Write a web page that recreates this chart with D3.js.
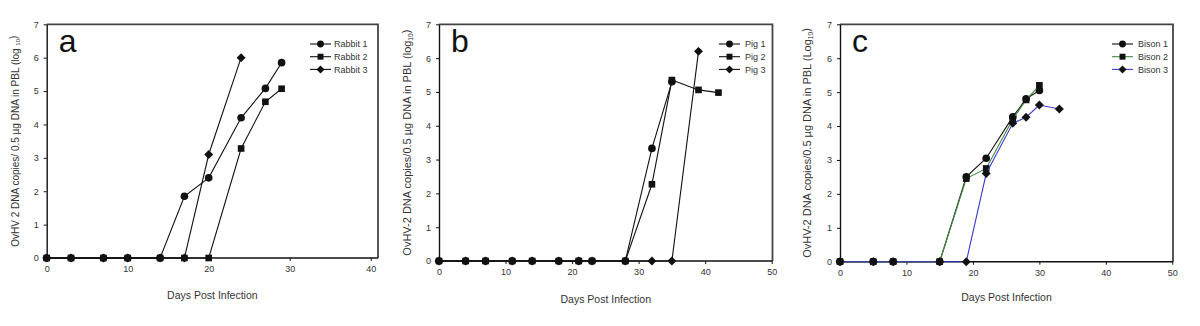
<!DOCTYPE html>
<html><head><meta charset="utf-8">
<script src="https://cdn.jsdelivr.net/npm/d3@7"></script>
<style>body{margin:0;background:#fff}svg{display:block;font-family:Arial,"Liberation Sans",sans-serif}</style>
</head><body><svg id="c" width="1200" height="326"></svg>
<script>
// ---- data ----
const xTicksA = [0,10,20,30,40];
const xTicksBC = [0,10,20,30,40,50];
const yTicks = [0,1,2,3,4,5,6,7];

const rabbitNames = ["Rabbit 1","Rabbit 2","Rabbit 3"];
const rabbit1Days = [0,3,7,10,14,17,20,24,27,29];
const rabbit1Vals = [0,0,0,0,0,1.85,2.4,4.2,5.08,5.85];
const rabbit2Days = [0,3,7,10,14,17,20,24,27,29];
const rabbit2Vals = [0,0,0,0,0,0,0,3.28,4.68,5.07];
const rabbit3Days = [0,3,7,10,14,17,20,24];
const rabbit3Vals = [0,0,0,0,0,0,3.1,6.0];

const pigNames = ["Pig 1","Pig 2","Pig 3"];
const pig1Days = [0,4,7,11,14,18,21,23,28,32,35];
const pig1Vals = [0,0,0,0,0,0,0,0,0,3.33,5.3];
const pig2Days = [0,4,7,11,14,18,21,23,28,32,35,39,42];
const pig2Vals = [0,0,0,0,0,0,0,0,0,2.27,5.35,5.06,4.98];
const pig3Days = [0,4,7,11,14,18,21,23,28,32,35,39];
const pig3Vals = [0,0,0,0,0,0,0,0,0,0,0,6.2];

const bisonNames = ["Bison 1","Bison 2","Bison 3"];
const bison1Days = [0,5,8,15,19,22,26,28,30];
const bison1Vals = [0,0,0,0,2.5,3.05,4.27,4.8,5.05];
const bison2Days = [0,5,8,15,19,22,26,28,30];
const bison2Vals = [0,0,0,0,2.45,2.75,4.2,4.77,5.2];
const bison3Days = [0,5,8,15,19,22,26,28,30,33];
const bison3Vals = [0,0,0,0,0,2.6,4.08,4.26,4.62,4.5];

// ---- layout / style ----
const markers = [d3.symbolCircle, d3.symbolSquare, d3.symbolSquare];
const markerRot = [0, 0, 45];
const markerSize = [46, 44, 40];
const panels = [
  {letter:"a", xMax:40, xTicks:xTicksA, x0:46.7, x1:370.7, frameR:378, yT:24.3, yB:258,
   names:rabbitNames, days:[rabbit1Days,rabbit2Days,rabbit3Days], vals:[rabbit1Vals,rabbit2Vals,rabbit3Vals],
   colors:["#111","#111","#111"], ytitle:["OvHV 2 DNA copies/ 0.5 \u00b5g DNA in PBL (log ","10",")"], ytFont:10, ytX:15,
   legX:310, legTX:334, xtY:299},
  {letter:"b", xMax:50, xTicks:xTicksBC, x0:439, x1:771.7, frameR:772.5, yT:24.3, yB:261,
   names:pigNames, days:[pig1Days,pig2Days,pig3Days], vals:[pig1Vals,pig2Vals,pig3Vals],
   colors:["#111","#111","#111"], ytitle:["OvHV-2 DNA copies/0.5 \u00b5g DNA in PBL (log","10",")"], ytFont:11, ytX:407,
   legX:719, legTX:745, xtY:303},
  {letter:"c", xMax:50, xTicks:xTicksBC, x0:840, x1:1172.3, frameR:1173, yT:24.3, yB:261.7,
   names:bisonNames, days:[bison1Days,bison2Days,bison3Days], vals:[bison1Vals,bison2Vals,bison3Vals],
   colors:["#111","#3f8a3f","#3a3ad0"], ytitle:["OvHV-2 DNA copies/0.5 \u00b5g DNA in PBL (Log","10",")"], ytFont:11, ytX:807,
   legX:1112, legTX:1138, xtY:301}
];

const svg = d3.select("#c");
panels.forEach(p => {
  const x = d3.scaleLinear().domain([0,p.xMax]).range([p.x0,p.x1]);
  const y = d3.scaleLinear().domain([0,7]).range([p.yB,p.yT]);
  const g = svg.append("g");
  // frame top/right
  g.append("path").attr("d",`M${p.x0},${p.yT}H${p.frameR}V${p.yB}`).attr("fill","none").attr("stroke","#444").attr("stroke-width",1.8);
  // axes
  const ax = g.append("g").attr("transform",`translate(0,${p.yB})`)
    .call(d3.axisBottom(x).tickValues(p.xTicks).tickFormat(d3.format("d")).tickSize(3).tickPadding(5).tickSizeOuter(0));
  ax.select(".domain").attr("d",`M${p.x0},0H${p.frameR}`);
  const ay = g.append("g").attr("transform",`translate(${p.x0},0)`)
    .call(d3.axisLeft(y).tickValues(yTicks).tickFormat(d3.format("d")).tickSize(3).tickPadding(5).tickSizeOuter(0));
  [ax,ay].forEach(a=>{
    a.select(".domain").attr("stroke","#111").attr("stroke-width",1.4);
    a.selectAll(".tick line").attr("stroke","#111");
    a.selectAll(".tick text").attr("font-size",9).attr("fill","#333").attr("font-family","Arial, 'Liberation Sans', sans-serif");
  });
  // axis titles
  g.append("text").attr("x",(p.x0+p.frameR)/2).attr("y",p.xtY).attr("text-anchor","middle")
    .attr("font-size",10.5).attr("fill","#333").text("Days Post Infection");
  const yt = g.append("text").attr("transform",`translate(${p.ytX},${(p.yT+p.yB)/2}) rotate(-90)`)
    .attr("text-anchor","middle").attr("dy","0.35em").attr("font-size",p.ytFont).attr("fill","#333");
  yt.append("tspan").text(p.ytitle[0]);
  yt.append("tspan").attr("font-size",p.ytFont*0.6).attr("dy","0.3em").text(p.ytitle[1]);
  yt.append("tspan").attr("dy","-0.3em").text(p.ytitle[2]);
  // panel letter
  g.append("text").attr("x",p.x0+12).attr("y",52).attr("font-size",32).attr("fill","#111").text(p.letter);
  // series
  const line = d3.line().x(d=>x(d[0])).y(d=>y(d[1]));
  p.names.forEach((n,i) => {
    const pts = d3.zip(p.days[i], p.vals[i]);
    g.append("path").datum(pts).attr("d",line).attr("fill","none").attr("stroke",p.colors[i]).attr("stroke-width",1.1);
    g.selectAll(null).data(pts).enter().append("path")
      .attr("transform",d=>`translate(${x(d[0])},${y(d[1])}) rotate(${markerRot[i]})`)
      .attr("d",d3.symbol().type(markers[i]).size(markerSize[i])).attr("fill","#111");
    // legend
    const ly = 44 + i*12.7;
    g.append("line").attr("x1",p.legX).attr("x2",p.legX+21).attr("y1",ly).attr("y2",ly).attr("stroke",p.colors[i]).attr("stroke-width",1.1);
    g.append("path").attr("transform",`translate(${p.legX+10.5},${ly}) rotate(${markerRot[i]})`).attr("d",d3.symbol().type(markers[i]).size(markerSize[i]*0.8)).attr("fill","#111");
    g.append("text").attr("x",p.legTX).attr("y",ly).attr("dy","0.35em").attr("font-size",9).attr("fill","#333").text(n);
  });
});
</script></body></html>
